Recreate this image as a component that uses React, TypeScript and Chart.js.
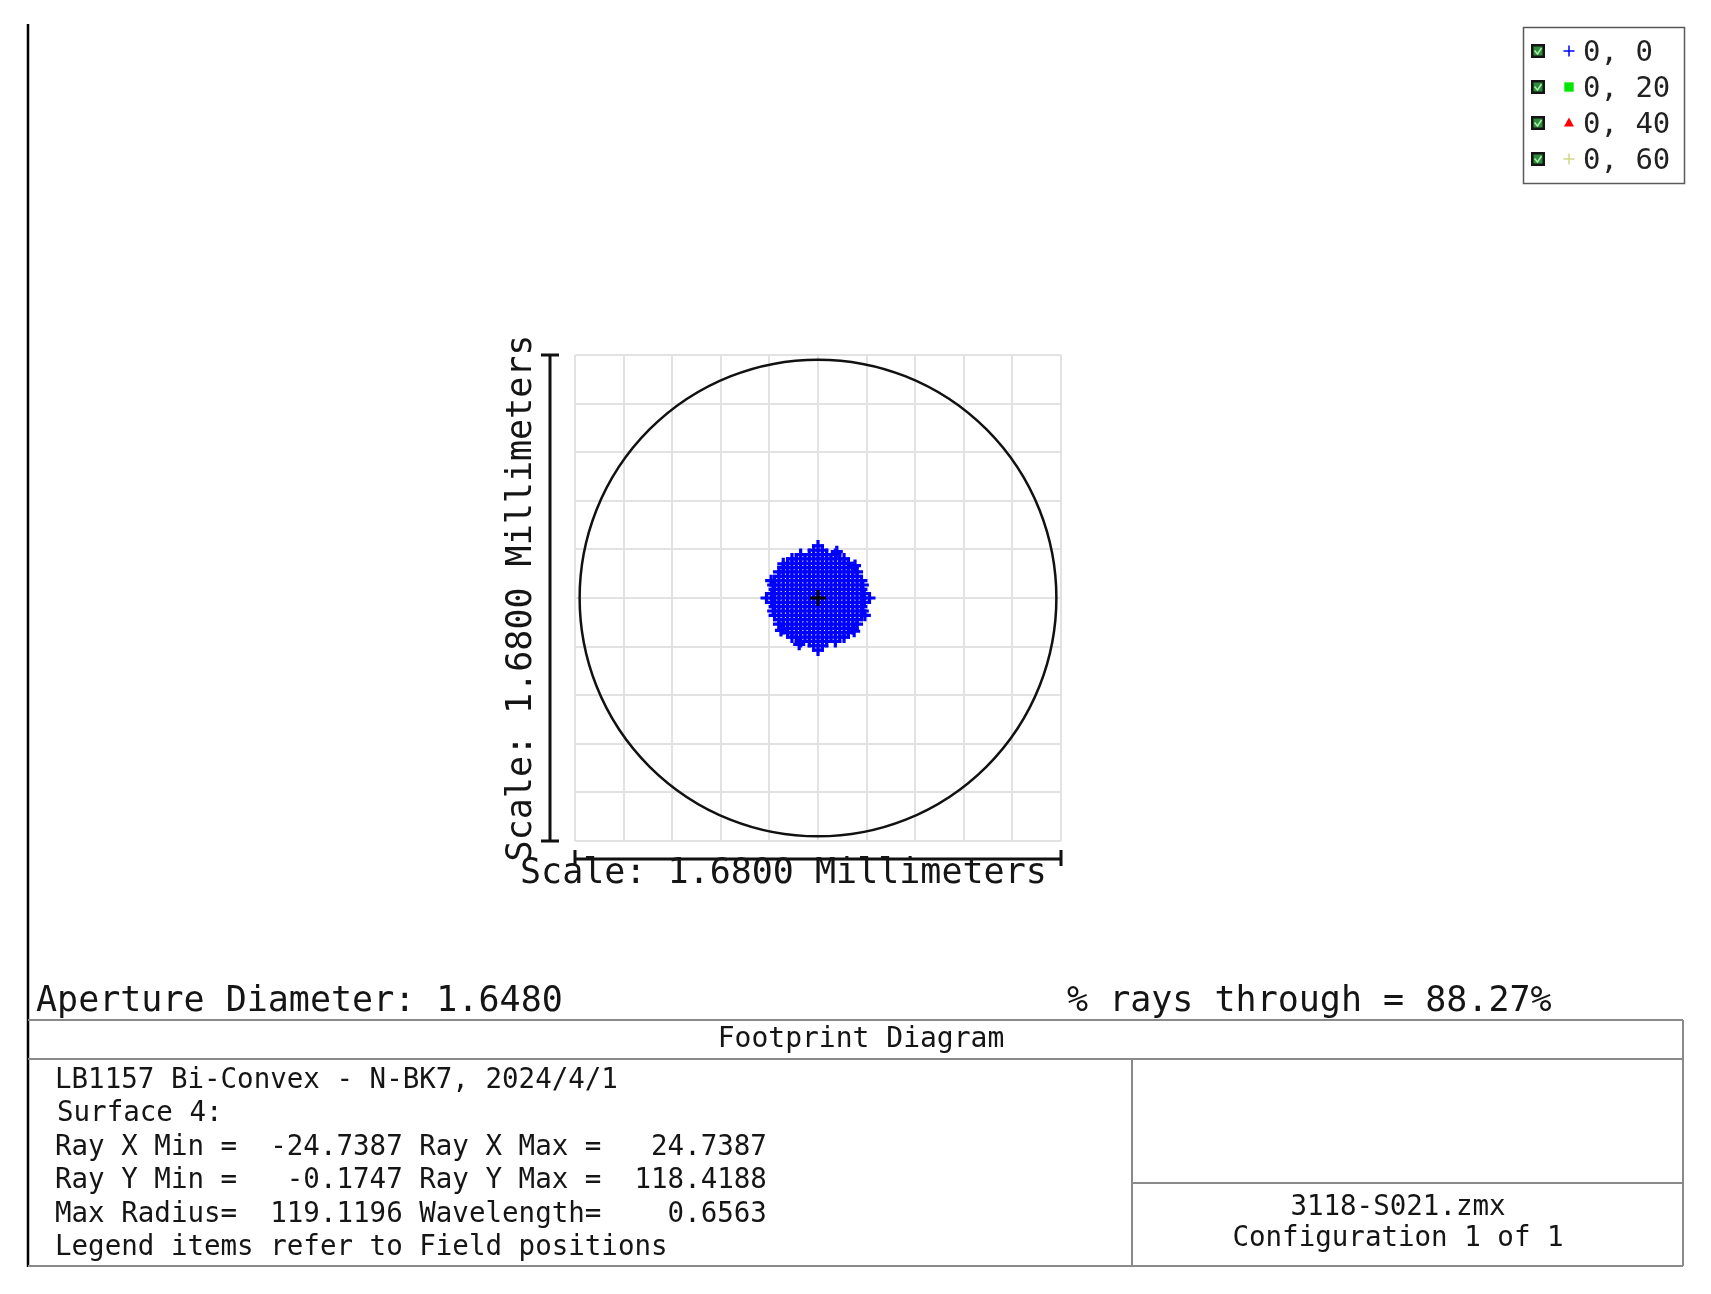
import { useEffect, useRef } from 'react';
import { Chart, registerables } from 'chart.js';

Chart.register(...registerables);

// ---- data ----
const fieldLabels = ['0, 0', '0, 20', '0, 40', '0, 60'];
const fieldColors = ['#0000ff', '#00e600', '#ff0000', '#d2d888'];
const fieldMarkers = ['cross', 'rect', 'triangle', 'cross'];

const axisMin = -0.84;
const axisMax = 0.84;
const gridStep = 0.168;
const apertureDiameter = 1.648;
const scaleText = 'Scale: 1.6800 Millimeters';

// ray intercepts of field 0,0 on surface 4 (mm), row by row: [y, x values]
const spotRows: [number, number[]][] = [
  [0.165, [-0.015, 0.015]],
  [0.15, [-0.06, -0.03, 0, 0.03, 0.06]],
  [0.135, [-0.09, -0.075, -0.045, -0.015, 0.015, 0.045, 0.075, 0.09]],
  [0.12, [-0.105, -0.09, -0.06, -0.03, 0, 0.03, 0.06, 0.09, 0.105]],
  [0.105, [-0.12, -0.105, -0.075, -0.045, -0.015, 0.015, 0.045, 0.075, 0.105, 0.12]],
  [0.09, [-0.135, -0.12, -0.09, -0.06, -0.03, 0, 0.03, 0.06, 0.09, 0.12, 0.135]],
  [0.075, [-0.135, -0.105, -0.075, -0.045, -0.015, 0.015, 0.045, 0.075, 0.105, 0.135]],
  [0.06, [-0.15, -0.12, -0.09, -0.06, -0.03, 0, 0.03, 0.06, 0.09, 0.12, 0.15]],
  [0.045, [-0.155, -0.135, -0.105, -0.075, -0.045, -0.015, 0.015, 0.045, 0.075, 0.105, 0.135, 0.155]],
  [0.03, [-0.15, -0.12, -0.09, -0.06, -0.03, 0, 0.03, 0.06, 0.09, 0.12, 0.15]],
  [0.015, [-0.16, -0.135, -0.105, -0.075, -0.045, -0.015, 0.015, 0.045, 0.075, 0.105, 0.135, 0.16]],
  [0, [-0.15, -0.12, -0.09, -0.06, -0.03, 0, 0.03, 0.06, 0.09, 0.12, 0.15]],
  [-0.015, [-0.16, -0.135, -0.105, -0.075, -0.045, -0.015, 0.015, 0.045, 0.075, 0.105, 0.135, 0.16]],
  [-0.03, [-0.15, -0.12, -0.09, -0.06, -0.03, 0, 0.03, 0.06, 0.09, 0.12, 0.15]],
  [-0.045, [-0.155, -0.135, -0.105, -0.075, -0.045, -0.015, 0.015, 0.045, 0.075, 0.105, 0.135, 0.155]],
  [-0.06, [-0.15, -0.12, -0.09, -0.06, -0.03, 0, 0.03, 0.06, 0.09, 0.12, 0.15]],
  [-0.075, [-0.135, -0.105, -0.075, -0.045, -0.015, 0.015, 0.045, 0.075, 0.105, 0.135]],
  [-0.09, [-0.135, -0.12, -0.09, -0.06, -0.03, 0, 0.03, 0.06, 0.09, 0.12, 0.135]],
  [-0.105, [-0.12, -0.105, -0.075, -0.045, -0.015, 0.015, 0.045, 0.075, 0.105, 0.12]],
  [-0.12, [-0.105, -0.09, -0.06, -0.03, 0, 0.03, 0.06, 0.09, 0.105]],
  [-0.135, [-0.09, -0.075, -0.045, -0.015, 0.015, 0.045, 0.075, 0.09]],
  [-0.15, [-0.06, -0.03, 0, 0.03, 0.06]],
  [-0.165, [-0.015, 0.015]],
];
const spotEdgeRays: [number, number][] = [
  [0, 0.18], [0, -0.18], [-0.178, 0], [0.178, 0],
  [-0.162, 0.06], [0.162, -0.06], [0.065, 0.16], [-0.065, -0.16],
  [0.128, 0.112], [-0.128, -0.112], [0.125, -0.115], [-0.12, 0.118],
];
const chiefRay: [number, number][] = [[0, 0]];

const headerLeft = 'Aperture Diameter: 1.6480';
const headerRight = '% rays through = 88.27%';
const titleText = 'Footprint Diagram';
const infoLines = [
  'LB1157 Bi-Convex - N-BK7, 2024/4/1',
  'Surface 4:',
  'Ray X Min =  -24.7387 Ray X Max =   24.7387',
  'Ray Y Min =   -0.1747 Ray Y Max =  118.4188',
  'Max Radius=  119.1196 Wavelength=    0.6563',
  'Legend items refer to Field positions',
];
const fileLines = ['3118-S021.zmx', 'Configuration 1 of 1'];

// ---- layout ----
const W = 1695;
const H = 1276;
const MONO = '"DejaVu Sans Mono", "Liberation Mono", monospace';

function drawMarker(ctx: CanvasRenderingContext2D, style: string, color: string, x: number, y: number, r: number) {
  ctx.save();
  ctx.strokeStyle = color;
  ctx.fillStyle = color;
  ctx.lineWidth = 1.5;
  if (style === 'cross') {
    ctx.beginPath();
    ctx.moveTo(x - r, y);
    ctx.lineTo(x + r, y);
    ctx.moveTo(x, y - r);
    ctx.lineTo(x, y + r);
    ctx.stroke();
  } else if (style === 'rect') {
    ctx.fillRect(x - r * 0.85, y - r * 0.85, r * 1.7, r * 1.7);
  } else if (style === 'triangle') {
    ctx.beginPath();
    ctx.moveTo(x, y - r);
    ctx.lineTo(x + r * 0.9, y + r * 0.65);
    ctx.lineTo(x - r * 0.9, y + r * 0.65);
    ctx.closePath();
    ctx.fill();
  }
  ctx.restore();
}

const decorPlugin = {
  id: 'footprintDecor',
  beforeDatasetsDraw(chart: any) {
    const { ctx, scales } = chart;
    const cx = scales.x.getPixelForValue(0);
    const cy = scales.y.getPixelForValue(0);
    const r = scales.x.getPixelForValue(apertureDiameter / 2) - cx;
    ctx.save();
    ctx.strokeStyle = '#111';
    ctx.lineWidth = 2.5;
    ctx.beginPath();
    ctx.arc(cx, cy, r, 0, Math.PI * 2);
    ctx.stroke();
    ctx.restore();
  },
  afterDraw(chart: any) {
    const { ctx, chartArea } = chart;
    const { left, right, top, bottom } = chartArea;
    ctx.save();

    // left frame line
    ctx.strokeStyle = '#000';
    ctx.lineWidth = 2.5;
    ctx.beginPath();
    ctx.moveTo(20, 16);
    ctx.lineTo(20, 1259);
    ctx.stroke();

    // scale bars
    ctx.lineWidth = 3;
    ctx.strokeStyle = '#111';
    const vx = left - 25;
    ctx.beginPath();
    ctx.moveTo(vx, top);
    ctx.lineTo(vx, bottom);
    ctx.moveTo(vx - 9, top);
    ctx.lineTo(vx + 9, top);
    ctx.moveTo(vx - 9, bottom);
    ctx.lineTo(vx + 9, bottom);
    ctx.stroke();
    const hy = bottom + 18;
    ctx.beginPath();
    ctx.moveTo(left, hy);
    ctx.lineTo(right, hy);
    ctx.moveTo(left, hy - 9);
    ctx.lineTo(left, hy + 7);
    ctx.moveTo(right, hy - 9);
    ctx.lineTo(right, hy + 7);
    ctx.stroke();

    // scale labels
    ctx.fillStyle = '#151515';
    ctx.font = `35px ${MONO}`;
    ctx.textBaseline = 'alphabetic';
    ctx.textAlign = 'left';
    ctx.fillText(scaleText, 512, 875);
    ctx.save();
    ctx.translate(523, (top + bottom) / 2);
    ctx.rotate(-Math.PI / 2);
    ctx.textAlign = 'center';
    ctx.fillText(scaleText, 0, 0);
    ctx.restore();

    // header texts
    ctx.textAlign = 'left';
    ctx.fillText(headerLeft, 28, 1003);
    ctx.fillText(headerRight, 1059, 1003);

    // table
    ctx.strokeStyle = '#8a8a8a';
    ctx.lineWidth = 2;
    ctx.beginPath();
    ctx.moveTo(20, 1012);
    ctx.lineTo(1675, 1012);
    ctx.moveTo(20, 1051);
    ctx.lineTo(1675, 1051);
    ctx.moveTo(20, 1258);
    ctx.lineTo(1675, 1258);
    ctx.moveTo(1675, 1012);
    ctx.lineTo(1675, 1258);
    ctx.moveTo(1124, 1051);
    ctx.lineTo(1124, 1258);
    ctx.moveTo(1124, 1175);
    ctx.lineTo(1675, 1175);
    ctx.stroke();

    ctx.font = `28px ${MONO}`;
    ctx.textAlign = 'center';
    ctx.fillText(titleText, 853, 1039);

    ctx.font = `27.5px ${MONO}`;
    ctx.textAlign = 'left';
    infoLines.forEach((line, i) => {
      const x = i === 1 ? 49 : 47;
      ctx.fillText(line, x, 1080 + i * 33.4);
    });
    ctx.textAlign = 'center';
    fileLines.forEach((line, i) => {
      ctx.fillText(line, 1390, 1207 + i * 31);
    });

    // legend
    ctx.strokeStyle = '#5a5a5a';
    ctx.lineWidth = 1.5;
    ctx.strokeRect(1515.5, 19.5, 161, 156);
    ctx.font = `29px ${MONO}`;
    ctx.textAlign = 'left';
    ctx.textBaseline = 'middle';
    fieldLabels.forEach((label, i) => {
      const y = 43 + i * 36;
      ctx.fillStyle = '#141414';
      ctx.fillRect(1523, y - 7, 14, 14);
      ctx.fillStyle = '#2f8a3c';
      ctx.fillRect(1525.5, y - 4.5, 9, 9);
      ctx.strokeStyle = '#a8f0a8';
      ctx.lineWidth = 1.5;
      ctx.beginPath();
      ctx.moveTo(1526.5, y - 0.5);
      ctx.lineTo(1529.5, y + 3);
      ctx.lineTo(1533.5, y - 3);
      ctx.stroke();
      drawMarker(ctx, fieldMarkers[i], fieldColors[i], 1561, y, 5.5);
      ctx.fillStyle = '#222';
      ctx.fillText(label, 1575, y + 2);
    });

    ctx.restore();
  },
};

export default function App() {
  const ref = useRef<HTMLCanvasElement>(null);

  useEffect(() => {
    const canvas = ref.current;
    if (!canvas) return;
    const spotPoints = [
      ...spotRows.flatMap(([y, xs]) => xs.map((x) => ({ x, y }))),
      ...spotEdgeRays.map(([x, y]) => ({ x, y })),
    ];
    const datasets: any[] = fieldLabels.map((label, i) => ({
      label,
      data: i === 0 ? spotPoints : [],
      pointStyle: fieldMarkers[i],
      pointRadius: 6,
      pointBorderWidth: 3.2,
      borderColor: fieldColors[i],
      backgroundColor: fieldColors[i],
    }));
    datasets.push({
      label: 'chief ray',
      data: chiefRay.map(([x, y]) => ({ x, y })),
      pointStyle: 'cross',
      pointRadius: 8,
      pointBorderWidth: 3,
      borderColor: '#000',
      backgroundColor: '#000',
      order: -1,
    });

    const axis = {
      type: 'linear' as const,
      min: axisMin,
      max: axisMax,
      ticks: { display: false, stepSize: gridStep },
      grid: { color: '#e2e2e2', lineWidth: 2, drawTicks: false },
      border: { display: false },
    };

    const chart = new Chart(canvas, {
      type: 'scatter',
      data: { datasets },
      options: {
        responsive: false,
        animation: false,
        events: [],
        layout: { padding: { left: 567, top: 347, right: W - 567 - 486, bottom: H - 347 - 486 } },
        scales: { x: axis, y: axis },
        plugins: { legend: { display: false }, tooltip: { enabled: false } },
      },
      plugins: [decorPlugin],
    });
    return () => chart.destroy();
  }, []);

  return (
    <div style={{ width: W, height: H, background: '#fff' }}>
      <canvas ref={ref} width={W} height={H} style={{ display: 'block' }} />
    </div>
  );
}
